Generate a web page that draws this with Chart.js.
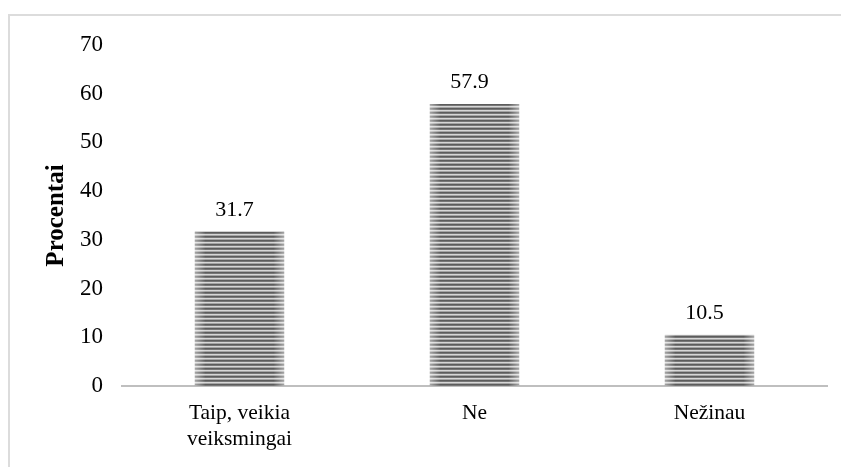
<!DOCTYPE html>
<html lang="lt">
<head>
    <meta charset="UTF-8">
    <title>Procentai</title>
    <script src="https://cdn.jsdelivr.net/npm/chart.js"></script>
    <style>
        body {
            margin: 0;
            background: #ffffff;
            font-family: 'Liberation Serif', serif;
        }
        .wrap {
            position: relative;
            width: 841px;
            height: 467px;
            overflow: hidden;
        }
        .frame {
            position: absolute;
            left: 8px;
            top: 14px;
            width: 900px;
            height: 500px;
            border: 2px solid #dcdcdc;
        }
        canvas {
            position: absolute;
            left: 0;
            top: 0;
        }
    </style>
</head>
<body>
    <div class="wrap">
        <div class="frame"></div>
        <canvas id="chart" width="841" height="467"></canvas>
    </div>

    <script>
        // Data
        const categories = [['Taip, veikia', 'veiksmingai'], 'Ne', 'Nežinau'];
        const values = [31.7, 57.9, 10.5];
        const yTicks = [0, 10, 20, 30, 40, 50, 60, 70];

        // Striped fill for the bars
        function makeStripes() {
            const c = document.createElement('canvas');
            c.width = 4;
            c.height = 4;
            const g = c.getContext('2d');
            const rows = ['#5c5c5c', '#777777', '#d6d6d6', '#a4a4a4'];
            rows.forEach((col, i) => {
                g.fillStyle = col;
                g.fillRect(0, i, 4, 1);
            });
            return g.createPattern(c, 'repeat');
        }

        const ctx = document.getElementById('chart').getContext('2d');
        const stripes = makeStripes();

        // lighter edges + value labels on top of bars
        const barExtras = {
            id: 'barExtras',
            afterDatasetsDraw(chart) {
                const c = chart.ctx;
                const meta = chart.getDatasetMeta(0);
                meta.data.forEach((bar, i) => {
                    const left = bar.x - bar.width / 2;
                    const right = bar.x + bar.width / 2;
                    const grad = c.createLinearGradient(left, 0, right, 0);
                    grad.addColorStop(0, 'rgba(255,255,255,0.45)');
                    grad.addColorStop(0.12, 'rgba(255,255,255,0)');
                    grad.addColorStop(0.88, 'rgba(255,255,255,0)');
                    grad.addColorStop(1, 'rgba(255,255,255,0.45)');
                    c.save();
                    c.fillStyle = grad;
                    c.fillRect(left, bar.y, bar.width, bar.base - bar.y);
                    c.fillStyle = '#000';
                    c.font = '22px "Liberation Serif"';
                    c.textAlign = 'center';
                    c.textBaseline = 'alphabetic';
                    c.fillText(values[i].toFixed(1), bar.x - 5, bar.y - 16);
                    c.restore();
                });
            }
        };

        new Chart(ctx, {
            type: 'bar',
            data: {
                labels: categories,
                datasets: [{
                    data: values,
                    backgroundColor: stripes,
                    borderWidth: 0,
                    categoryPercentage: 1,
                    barPercentage: 0.38
                }]
            },
            options: {
                responsive: false,
                animation: false,
                layout: { padding: { top: 45, right: 14, left: 0, bottom: 0 } },
                plugins: {
                    legend: { display: false },
                    tooltip: { enabled: false }
                },
                scales: {
                    x: {
                        grid: { display: false, drawTicks: false },
                        border: { display: true, color: '#bfbfbf', width: 2 },
                        ticks: {
                            color: '#000',
                            padding: 14,
                            font: { family: 'Liberation Serif', size: 21.5, lineHeight: 1.22 },
                            maxRotation: 0
                        },
                        afterFit(scale) { scale.height = 81; }
                    },
                    y: {
                        min: 0,
                        max: 70,
                        grid: { display: false, drawTicks: false },
                        border: { display: false },
                        afterBuildTicks(scale) {
                            scale.ticks = yTicks.map(v => ({ value: v }));
                        },
                        ticks: {
                            color: '#000',
                            padding: 19,
                            font: { family: 'Liberation Serif', size: 23 }
                        },
                        title: {
                            display: true,
                            text: 'Procentai',
                            color: '#000',
                            font: { family: 'Liberation Serif', size: 25, weight: 'bold' },
                            padding: { top: 42, bottom: 0 }
                        },
                        afterFit(scale) { scale.width = 122; }
                    }
                }
            },
            plugins: [barExtras]
        });
    </script>
</body>
</html>
